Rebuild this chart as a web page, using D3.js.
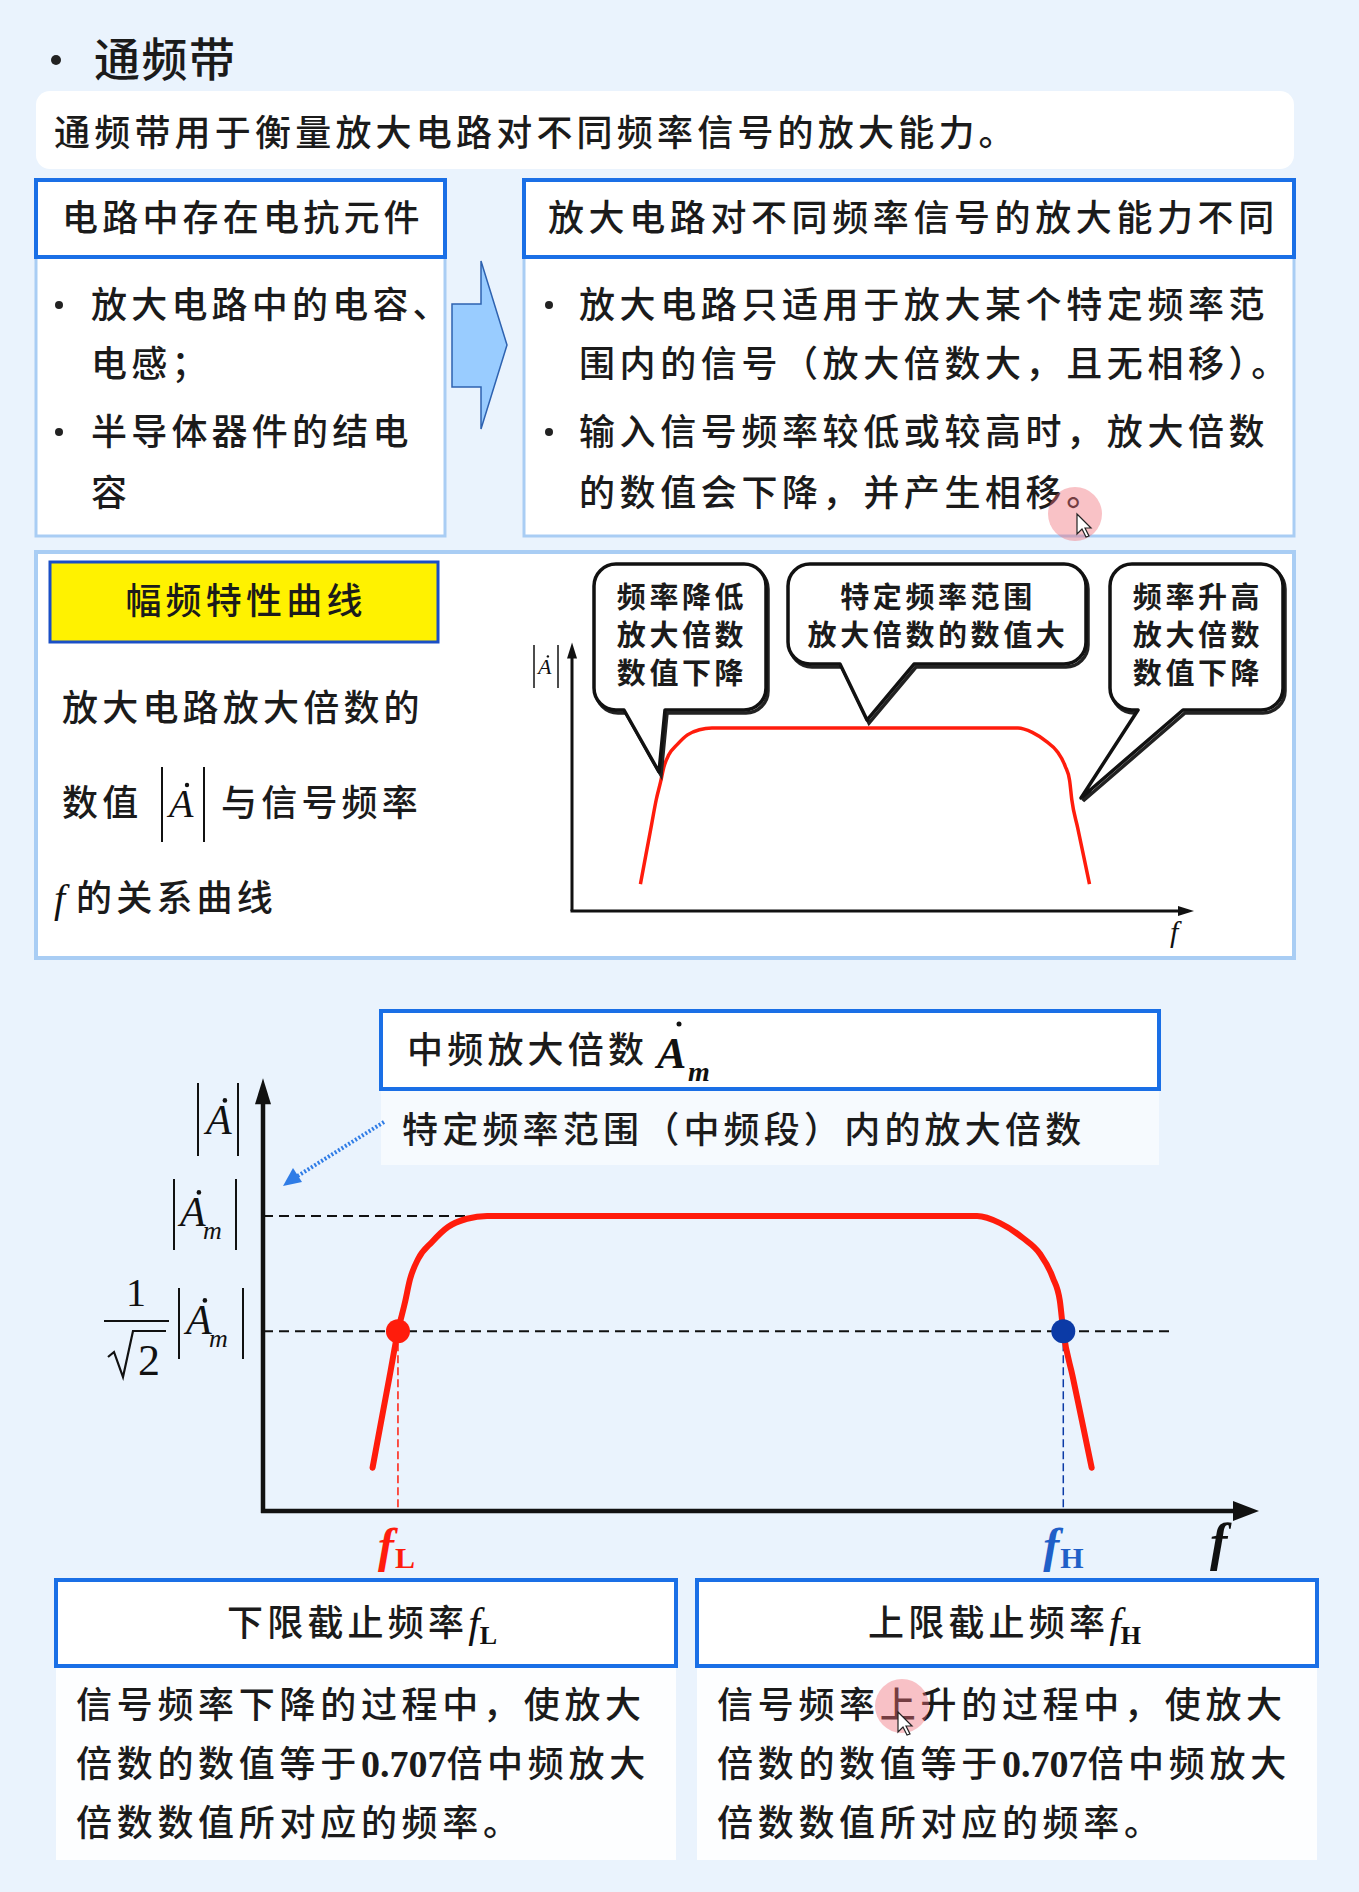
<!DOCTYPE html>
<html>
<head>
<meta charset="utf-8">
<script src="https://cdn.jsdelivr.net/npm/d3@7"></script>
<style>
body { margin: 0; background: #eaf3fd; }
svg { display: block; }
</style>
</head>
<body>
<div id="chart"></div>
<script>
// amplitude-frequency curve (relative units), shared by both plots
var curveFreq = [11.0, 11.85, 12.7, 13.55, 14.26, 14.76, 15.56, 16.97, 18.57, 20.48, 22.5, 71.7, 74.0, 76.3, 78.0, 79.3, 80.0, 80.35, 81.3, 82.25, 83.2]
var curveGain = [0.36, 0.476, 0.591, 0.707, 0.781, 0.839, 0.890, 0.934, 0.972, 0.993, 1.0, 1.0, 0.982, 0.944, 0.904, 0.843, 0.785, 0.707, 0.591, 0.476, 0.36]

var levelNames = ['|Am|', '|Am|/√2']
var levelGain = [1, 0.707]

var cutoffNames = ['fL', 'fH']
var cutoffFreq = [13.55, 80.35]

var axisMaxFreq = 100
var axisMaxGain = 1.35
var axisBaseGain = 0.25

// slide texts
var titleText = '通频带'
var introText = '通频带用于衡量放大电路对不同频率信号的放大能力。'
var leftHead = '电路中存在电抗元件'
var rightHead = '放大电路对不同频率信号的放大能力不同'
var leftLines = [['•', '放大电路中的电容、'], ['', '电感；'], ['•', '半导体器件的结电'], ['', '容']]
var rightLines = [['•', '放大电路只适用于放大某个特定频率范'], ['', '围内的信号（放大倍数大，且无相移）。'],
	['•', '输入信号频率较低或较高时，放大倍数'], ['', '的数值会下降，并产生相移。']]
var bubbleTexts = [['频率降低', '放大倍数', '数值下降'], ['特定频率范围', '放大倍数的数值大'], ['频率升高', '放大倍数', '数值下降']]
var lowerHeads = ['下限截止频率', '上限截止频率']
var lowerBodies = [
	['信号频率下降的过程中，使放大', '倍数的数值等于|0.707|倍中频放大', '倍数数值所对应的频率。'],
	['信号频率上升的过程中，使放大', '倍数的数值等于|0.707|倍中频放大', '倍数数值所对应的频率。']
]

var C = {
	head: '#1a6fe6', light: '#a9cdf4', red: '#ff1c0c', blue: '#0b3aa6',
	fhBlue: '#1f5fc8', ink: '#1b1b1b', yellow: '#fff200'
}
var CN = '"Noto Sans CJK SC", "Noto Sans", sans-serif'
var SERIF = '"Liberation Serif", "DejaVu Serif", serif'
var LS = 4.2

var svg = d3.select('#chart').append('svg')
	.attr('width', 1359)
	.attr('height', 1892)

svg.append('rect').attr('width', 1359).attr('height', 1892).attr('fill', '#eaf3fd')

var box = function(x, y, w, h, fill, stroke, sw, rx) {
	return svg.append('rect')
		.attr('x', x).attr('y', y).attr('width', w).attr('height', h)
		.attr('rx', rx || 0)
		.attr('fill', fill)
		.attr('stroke', stroke || 'none')
		.attr('stroke-width', sw || 0)
}

// cy = visual centre of the CJK line
var cnText = function(x, cy, str, size, opts) {
	opts = opts || {}
	return svg.append('text')
		.attr('x', x)
		.attr('y', cy + size * 0.37)
		.attr('font-family', CN)
		.attr('font-size', size)
		.attr('font-weight', opts.weight || 500)
		.attr('letter-spacing', opts.ls == null ? LS : opts.ls)
		.attr('text-anchor', opts.anchor || 'start')
		.attr('fill', opts.fill || C.ink)
		.text(str)
}

var dot = function(x, y, r) {
	svg.append('circle').attr('cx', x).attr('cy', y).attr('r', r).attr('fill', '#111')
}

// |A| style label with optional subscript m
var absA = function(o) {
	[o.x1, o.x2].forEach(function(x) {
		svg.append('line')
			.attr('x1', x).attr('x2', x).attr('y1', o.y1).attr('y2', o.y2)
			.attr('stroke', '#111').attr('stroke-width', o.bw || 2)
	})
	svg.append('text')
		.attr('x', o.ax).attr('y', o.ay)
		.attr('font-family', SERIF).attr('font-style', 'italic')
		.attr('font-size', o.size).attr('fill', '#111')
		.text('A')
	dot(o.ax + o.size * 0.45, o.ay - o.size * 0.8, o.size * 0.055)
	if (o.sub) {
		svg.append('text')
			.attr('x', o.ax + o.size * 0.55).attr('y', o.ay + o.size * 0.32)
			.attr('font-family', SERIF).attr('font-style', 'italic')
			.attr('font-size', o.size * 0.62).attr('fill', '#111')
			.text('m')
	}
}

// ---------- top part ----------
svg.append('circle').attr('cx', 56).attr('cy', 60).attr('r', 5).attr('fill', '#222')
cnText(94, 59, titleText, 46, { ls: 1.5 })

box(36, 91, 1258, 78, '#ffffff', null, 0, 14)
cnText(54, 133, introText, 36)

box(36, 257, 409, 279, '#ffffff', C.light, 3)
box(36, 180, 409, 77, '#ffffff', C.head, 4)
cnText(62, 218, leftHead, 36)

box(524, 257, 770, 279, '#ffffff', C.light, 3)
box(524, 180, 770, 77, '#ffffff', C.head, 4)
cnText(548, 218, rightHead, 36, { ls: 4.6 })

var lineY = [305, 364, 432, 493]
leftLines.forEach(function(d, i) {
	if (d[0]) svg.append('circle').attr('cx', 59).attr('cy', lineY[i]).attr('r', 4).attr('fill', '#222')
	cnText(91, lineY[i], d[1], 36)
})
rightLines.forEach(function(d, i) {
	if (d[0]) svg.append('circle').attr('cx', 549).attr('cy', lineY[i]).attr('r', 4).attr('fill', '#222')
	cnText(579, lineY[i], d[1], 36, { ls: 4.6 })
})

// block arrow between the two boxes
svg.append('path')
	.attr('d', 'M452,304 L481,304 L481,261 L507,345 L481,429 L481,387 L452,387 Z')
	.attr('fill', '#99ccff').attr('stroke', '#2e62b0').attr('stroke-width', 1.5)

// ---------- middle part ----------
box(36, 552, 1258, 406, '#ffffff', C.light, 4)
box(50, 562, 388, 80, C.yellow, '#1a4fc6', 3)
cnText(246, 601, '幅频特性曲线', 36, { anchor: 'middle' })

cnText(62, 708, '放大电路放大倍数的', 36)
cnText(62, 803, '数值', 36)
absA({ x1: 162, x2: 204, y1: 767, y2: 842, ax: 169, ay: 817, size: 40 })
cnText(221, 803, '与信号频率', 36)
svg.append('text').attr('x', 54).attr('y', 912)
	.attr('font-family', SERIF).attr('font-style', 'italic').attr('font-size', 40).attr('fill', '#111')
	.text('f')
cnText(76, 898, '的关系曲线', 36)

// small plot
var xSmall = d3.scaleLinear().domain([0, axisMaxFreq]).range([572, 1194])
var ySmall = d3.scaleLinear().domain([axisBaseGain, 1]).range([911, 728])

var curveData = curveFreq.map(function(f, i) { return [f, curveGain[i]] })

var smallLine = d3.line()
	.x(function(d) { return xSmall(d[0]) })
	.y(function(d) { return ySmall(d[1]) })
	.curve(d3.curveMonotoneX)

var arrowHead = function(tip, dir, len, half) {
	// dir: 'up' or 'right'
	var p = dir == 'up'
		? [[tip[0], tip[1]], [tip[0] - half, tip[1] + len], [tip[0] + half, tip[1] + len]]
		: [[tip[0], tip[1]], [tip[0] - len, tip[1] - half], [tip[0] - len, tip[1] + half]]
	svg.append('path').attr('d', 'M' + p.join('L') + 'Z').attr('fill', '#111')
}

svg.append('line')
	.attr('x1', xSmall(0)).attr('x2', xSmall(0))
	.attr('y1', ySmall(axisBaseGain)).attr('y2', ySmall(axisMaxGain) + 12)
	.attr('stroke', '#111').attr('stroke-width', 3)
arrowHead([xSmall(0), ySmall(axisMaxGain)], 'up', 16, 5)
svg.append('line')
	.attr('x1', xSmall(0) - 1.5).attr('x2', xSmall(axisMaxFreq) - 12)
	.attr('y1', ySmall(axisBaseGain)).attr('y2', ySmall(axisBaseGain))
	.attr('stroke', '#111').attr('stroke-width', 3)
arrowHead([xSmall(axisMaxFreq), ySmall(axisBaseGain)], 'right', 16, 5)

svg.append('path').attr('d', smallLine(curveData))
	.attr('fill', 'none').attr('stroke', C.red).attr('stroke-width', 3.5)

absA({ x1: 534, x2: 558, y1: 645, y2: 688, ax: 538, ay: 674, size: 22, bw: 1.5 })
svg.append('text').attr('x', 1170).attr('y', 942)
	.attr('font-family', SERIF).attr('font-style', 'italic').attr('font-size', 30).attr('fill', '#111')
	.text('f')

// speech bubbles
var bubblePath = function(x, y, w, h, r, b1, b2, tx, ty) {
	var p = d3.path()
	p.moveTo(x + r, y)
	p.lineTo(x + w - r, y)
	p.arcTo(x + w, y, x + w, y + r, r)
	p.lineTo(x + w, y + h - r)
	p.arcTo(x + w, y + h, x + w - r, y + h, r)
	p.lineTo(b2, y + h)
	p.lineTo(tx, ty)
	p.lineTo(b1, y + h)
	p.lineTo(x + r, y + h)
	p.arcTo(x, y + h, x, y + h - r, r)
	p.lineTo(x, y + r)
	p.arcTo(x, y, x + r, y, r)
	p.closePath()
	return p.toString()
}

var bubbles = [
	{ x: 594, y: 564, w: 172, h: 146, b1: 624, b2: 665, tx: 659, ty: 772, cx: 682 },
	{ x: 788, y: 564, w: 298, h: 100, b1: 840, b2: 914, tx: 867, ty: 720, cx: 938 },
	{ x: 1110, y: 564, w: 173, h: 146, b1: 1138, b2: 1183, tx: 1081, ty: 798, cx: 1198 }
]
bubbles.forEach(function(b, i) {
	var d = bubblePath(b.x, b.y, b.w, b.h, 22, b.b1, b.b2, b.tx, b.ty)
	svg.append('path').attr('d', d).attr('transform', 'translate(2,3)')
		.attr('fill', 'none').attr('stroke', '#222').attr('stroke-width', 3.5)
	svg.append('path').attr('d', d)
		.attr('fill', '#ffffff').attr('stroke', '#111').attr('stroke-width', 3.5)
		.attr('stroke-linejoin', 'round')
	bubbleTexts[i].forEach(function(t, j) {
		cnText(b.cx, 597 + j * 38, t, 29, { ls: 3.6, anchor: 'middle', weight: 700 })
	})
})

// ---------- lower plot ----------
box(381, 1089, 778, 76, '#f6fafe')
box(381, 1011, 778, 78, '#ffffff', C.head, 4)
cnText(407, 1050, '中频放大倍数', 36)
svg.append('text').attr('x', 657).attr('y', 1068)
	.attr('font-family', SERIF).attr('font-style', 'italic').attr('font-weight', 700)
	.attr('font-size', 44).attr('fill', '#111').text('A')
dot(679, 1024, 2.5)
svg.append('text').attr('x', 688).attr('y', 1081)
	.attr('font-family', SERIF).attr('font-style', 'italic').attr('font-weight', 700)
	.attr('font-size', 28).attr('fill', '#111').text('m')
cnText(402, 1130, '特定频率范围（中频段）内的放大倍数', 36)

var xBig = d3.scaleLinear().domain([0, axisMaxFreq]).range([263, 1259])
var yBig = d3.scaleLinear().domain([axisBaseGain, 1]).range([1511, 1216])

var bigLine = d3.line()
	.x(function(d) { return xBig(d[0]) })
	.y(function(d) { return yBig(d[1]) })
	.curve(d3.curveMonotoneX)

// dashed reference levels
var levelEnd = [22.3, 91]
levelGain.forEach(function(g, i) {
	svg.append('line')
		.attr('class', 'level level-' + i)
		.attr('x1', xBig(0)).attr('x2', xBig(levelEnd[i]))
		.attr('y1', yBig(g)).attr('y2', yBig(g))
		.attr('stroke', '#111').attr('stroke-width', 2.2)
		.attr('stroke-dasharray', '10,6')
})

// axes
svg.append('line')
	.attr('x1', xBig(0)).attr('x2', xBig(0))
	.attr('y1', yBig(axisBaseGain) + 2).attr('y2', yBig(axisMaxGain) + 20)
	.attr('stroke', '#111').attr('stroke-width', 4.5)
arrowHead([xBig(0), yBig(axisMaxGain)], 'up', 26, 8)
svg.append('line')
	.attr('x1', xBig(0) - 2).attr('x2', xBig(axisMaxFreq) - 20)
	.attr('y1', yBig(axisBaseGain)).attr('y2', yBig(axisBaseGain))
	.attr('stroke', '#111').attr('stroke-width', 4.5)
arrowHead([xBig(axisMaxFreq), yBig(axisBaseGain)], 'right', 26, 10)

// cutoff markers
var cutColor = [C.red, C.blue]
var cutLabelColor = [C.red, C.fhBlue]
cutoffFreq.forEach(function(f, i) {
	svg.append('line')
		.attr('x1', xBig(f)).attr('x2', xBig(f))
		.attr('y1', yBig(levelGain[1])).attr('y2', yBig(axisBaseGain) - 2)
		.attr('stroke', cutColor[i]).attr('stroke-width', 1.5)
		.attr('stroke-dasharray', '8,4')
})

svg.append('path').attr('d', bigLine(curveData))
	.attr('fill', 'none').attr('stroke', C.red).attr('stroke-width', 6)
	.attr('stroke-linecap', 'round')

cutoffFreq.forEach(function(f, i) {
	svg.append('circle')
		.attr('cx', xBig(f)).attr('cy', yBig(levelGain[1])).attr('r', 12)
		.attr('fill', cutColor[i])
	var t = svg.append('text')
		.attr('x', xBig(f) - 20).attr('y', 1562)
		.attr('font-family', SERIF).attr('font-weight', 700)
		.attr('fill', cutLabelColor[i])
	t.append('tspan').attr('font-style', 'italic').attr('font-size', 48).text(cutoffNames[i][0])
	t.append('tspan').attr('font-size', 30).attr('dx', 1).attr('dy', 6).text(cutoffNames[i][1])
})

svg.append('text').attr('x', 1210).attr('y', 1560)
	.attr('font-family', SERIF).attr('font-style', 'italic').attr('font-weight', 700)
	.attr('font-size', 52).attr('fill', '#111').text('f')

// y labels
absA({ x1: 198, x2: 238, y1: 1083, y2: 1156, ax: 206, ay: 1134, size: 42 })
absA({ x1: 174, x2: 236, y1: 1179, y2: 1250, ax: 180, ay: 1226, size: 42, sub: true })
svg.append('text').attr('x', 136).attr('y', 1306)
	.attr('font-family', SERIF).attr('font-size', 40).attr('text-anchor', 'middle').attr('fill', '#111')
	.text('1')
svg.append('line').attr('x1', 104).attr('x2', 169).attr('y1', 1321).attr('y2', 1321)
	.attr('stroke', '#111').attr('stroke-width', 2)
svg.append('path').attr('d', 'M108,1357 L114,1352 L123,1377 L133,1331 L166,1331')
	.attr('fill', 'none').attr('stroke', '#111').attr('stroke-width', 2.2)
svg.append('text').attr('x', 138).attr('y', 1375)
	.attr('font-family', SERIF).attr('font-size', 44).attr('fill', '#111')
	.text('2')
absA({ x1: 179, x2: 243, y1: 1288, y2: 1359, ax: 186, ay: 1334, size: 42, sub: true })

// dotted blue pointer from the note to the axis
svg.append('line')
	.attr('x1', 384).attr('y1', 1122).attr('x2', 296).attr('y2', 1177)
	.attr('stroke', '#2f7ce6').attr('stroke-width', 4).attr('stroke-dasharray', '2,2')
svg.append('path').attr('d', 'M283,1186 L293,1168 L302,1182 Z').attr('fill', '#2f7ce6')

// ---------- bottom boxes ----------
var lowerX = [56, 697]
lowerHeads.forEach(function(h, i) {
	var x = lowerX[i]
	box(x, 1666, 620, 194, '#fdfeff')
	box(x, 1580, 620, 86, '#ffffff', C.head, 4)
	cnText(x + 171, 1623, h, 36)
	var fx = x + 171 + 6 * (36 + LS)
	var t = svg.append('text').attr('x', fx).attr('y', 1637)
		.attr('font-family', SERIF).attr('fill', '#111')
	t.append('tspan').attr('font-style', 'italic').attr('font-size', 42).text('f')
	t.append('tspan').attr('font-size', 26).attr('font-weight', 700).attr('dy', 7).text(cutoffNames[i][1])

	lowerBodies[i].forEach(function(line, j) {
		var cy = 1705 + j * 59
		var parts = line.split('|')
		var tx = svg.append('text').attr('x', x + 20).attr('y', cy + 36 * 0.37)
			.attr('font-family', CN).attr('font-size', 36).attr('font-weight', 500)
			.attr('fill', C.ink).attr('letter-spacing', LS + 0.5)
		parts.forEach(function(p, k) {
			var sp = tx.append('tspan').text(p)
			if (k == 1) sp.attr('font-family', SERIF).attr('font-weight', 700)
				.attr('font-size', 38).attr('letter-spacing', 0)
		})
	})
})

// mouse cursor highlights captured in the screenshot
var cursor = function(cx, cy, tx, ty) {
	svg.append('circle').attr('cx', cx).attr('cy', cy).attr('r', 27)
		.attr('fill', 'rgba(240,110,120,0.42)')
	svg.append('path')
		.attr('d', 'M0,0 L0,20 L5,15 L9,23 L12,22 L8,14 L14,14 Z')
		.attr('transform', 'translate(' + tx + ',' + ty + ')')
		.attr('fill', '#fff').attr('stroke', '#222').attr('stroke-width', 1.2)
}
cursor(1075, 514, 1077, 514)
cursor(902, 1706, 898, 1712)
</script>
</body>
</html>
